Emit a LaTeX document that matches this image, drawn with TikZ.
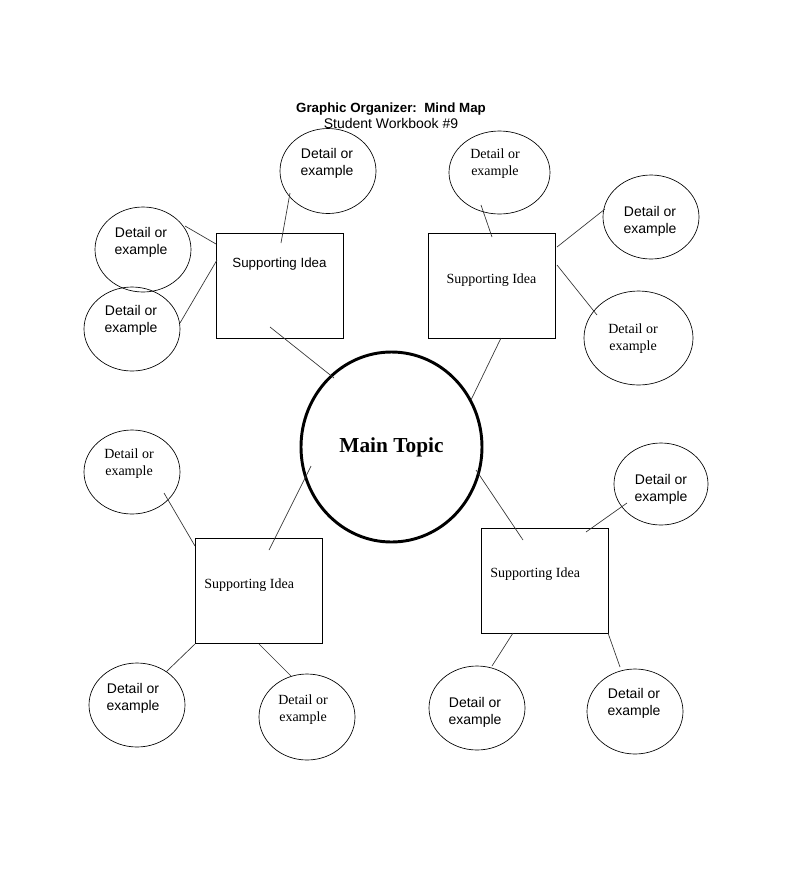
\documentclass[tikz,border=0pt]{standalone}
\usepackage{fontspec}
\newfontfamily\arialfont{Liberation Sans}
\newfontfamily\timesfont{Liberation Serif}
\usetikzlibrary{shapes.geometric, calc}

\begin{document}
\begin{tikzpicture}[x=0.75pt, y=-0.75pt,
    box/.style={draw, line width=0.6pt, minimum width=95.25pt, minimum height=78.75pt, inner sep=0pt},
    detail/.style={draw, ellipse, line width=0.5pt, minimum width=72pt, minimum height=63.75pt, inner sep=0pt},
    sanstext/.style={font=\arialfont\fontsize{10.5}{12.75}\selectfont, align=center},
    seriftext/.style={font=\timesfont\fontsize{10.5}{12.75}\selectfont, align=center},
    sansidea/.style={font=\arialfont\fontsize{10}{12}\selectfont},
    serifidea/.style={font=\timesfont\fontsize{10.5}{12}\selectfont},
    link/.style={line width=0.5pt, black!80}]

        \useasboundingbox (0,0) rectangle (785,883);

        % Title
        \node[align=center, font=\arialfont\fontsize{10}{12}\selectfont] (title) at (391,116)
            {{\bfseries Graphic Organizer:~~Mind Map}\\\fontsize{10.5}{12}\selectfont Student Workbook \#9};

        % Main topic
        \node[draw, ellipse, line width=2.2pt, minimum width=135.75pt, minimum height=142.5pt,
            font=\timesfont\bfseries\fontsize{16}{19}\selectfont] (main) at (391.5,447) {Main Topic};

        % Supporting ideas
        \node[box, label={[sansidea, yshift=16.1pt]center:Supporting Idea}] (tlbox) at (279.5,285.5) {};
        \node[box, label={[serifidea, yshift=4.1pt]center:Supporting Idea}] (trbox) at (491.5,285.5) {};
        \node[box, label={[serifidea, xshift=-7pt, yshift=4.5pt]center:Supporting Idea}] (blbox) at (258.5,591) {};
        \node[box, label={[serifidea, xshift=-7pt, yshift=4.9pt]center:Supporting Idea}] (brbox) at (544.5,580.5) {};

        % Details, top left
        \node[detail, label={[sanstext, xshift=-0.75pt, yshift=6pt]center:Detail or\\example}] (tla) at (328,171) {};
        \node[detail, label={[sanstext, xshift=-1.5pt, yshift=5.5pt]center:Detail or\\example}] (tlb) at (143,249.5) {};
        \node[detail, minimum height=63pt, label={[sanstext, xshift=-0.75pt, yshift=6.75pt]center:Detail or\\example}] (tlc) at (132,329) {};

        % Details, top right
        \node[detail, minimum width=75.75pt, minimum height=62.25pt, label={[seriftext, xshift=-3.4pt, yshift=6.4pt]center:Detail or\\example}] (tra) at (499.5,172.5) {};
        \node[detail, minimum height=63pt, label={[sanstext, xshift=-0.75pt, yshift=-3pt]center:Detail or\\example}] (trb) at (651,217) {};
        \node[detail, minimum width=81.75pt, minimum height=70.5pt, label={[seriftext, xshift=-4.1pt, yshift=-0.75pt]center:Detail or\\example}] (trc) at (638.5,338) {};

        % Details, bottom left
        \node[detail, minimum height=63pt, label={[seriftext, xshift=-2.25pt, yshift=6pt]center:Detail or\\example}] (bla) at (132,472) {};
        \node[detail, minimum height=63pt, label={[sanstext, xshift=-3pt, yshift=5.25pt]center:Detail or\\example}] (blb) at (137,705) {};
        \node[detail, minimum height=64.5pt, label={[seriftext, xshift=-3pt, yshift=5.25pt]center:Detail or\\example}] (blc) at (307,717) {};

        % Details, bottom right
        \node[detail, minimum width=70.5pt, minimum height=61.5pt, label={[sanstext, yshift=-3.75pt]center:Detail or\\example}] (bra) at (661,484) {};
        \node[detail, minimum height=63pt, label={[sanstext, xshift=-1.5pt, yshift=-3pt]center:Detail or\\example}] (brb) at (477,708) {};
        \node[detail, label={[sanstext, xshift=-0.75pt, yshift=6.4pt]center:Detail or\\example}] (brc) at (635,711.5) {};

        % Links to main topic
        \draw[link] ($(tlbox)+(-9.5,41.5)$) -- ($(main)+(-57.5,-69)$);
        \draw[link] ($(trbox)+(9.5,52.5)$) -- ($(main)+(79.5,-47)$);
        \draw[link] ($(blbox)+(10.5,-41)$) -- ($(main)+(-80.5,19)$);
        \draw[link] ($(brbox)+(-21.5,-40.5)$) -- ($(main)+(84.5,23)$);

        % Links to details
        \draw[link] ($(tlbox)+(1.5,-42.5)$) -- ($(tla)+(-38,22)$);
        \draw[link] ($(tlbox)+(-63.5,-41.5)$) -- ($(tlb)+(42,-23.5)$);
        \draw[link] ($(tlbox)+(-62.5,-25.5)$) -- ($(tlc)+(48,-6)$);
        \draw[link] ($(trbox)+(0.5,-48.5)$) -- ($(tra)+(-18.5,32.5)$);
        \draw[link] ($(trbox)+(65.5,-38.5)$) -- ($(trb)+(-46,-8)$);
        \draw[link] ($(trbox)+(65.5,-20.5)$) -- ($(trc)+(-41.5,-23)$);
        \draw[link] ($(blbox)+(-63.5,-45)$) -- ($(bla)+(32,21)$);
        \draw[link] ($(blbox)+(-63.5,53)$) -- ($(blb)+(29,-33)$);
        \draw[link] ($(blbox)+(0.5,53)$) -- ($(blc)+(-16,-41)$);
        \draw[link] ($(brbox)+(41.5,-48.5)$) -- ($(bra)+(-34,19)$);
        \draw[link] ($(brbox)+(-31.5,52.5)$) -- ($(brb)+(15,-42)$);
        \draw[link] ($(brbox)+(63.5,52.5)$) -- ($(brc)+(-15,-44.5)$);
    \end{tikzpicture}
\end{document}
